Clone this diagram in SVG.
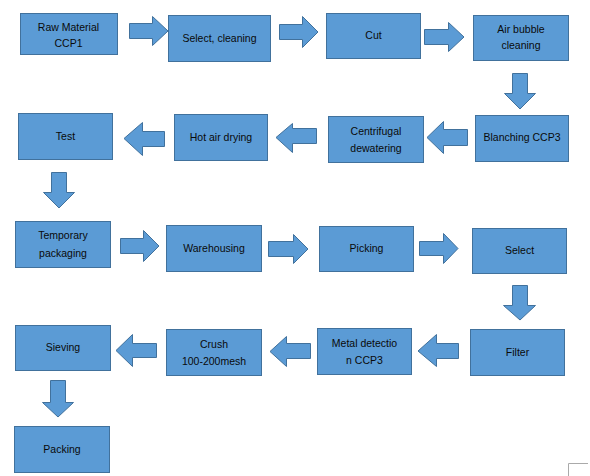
<svg xmlns="http://www.w3.org/2000/svg" width="590" height="476" viewBox="0 0 590 476">
<style>
.box{fill:#5B9BD5;stroke:#41719C;stroke-width:1}
.arr{fill:#5B9BD5;stroke:#41719C;stroke-width:1;stroke-linejoin:miter}
.t{font-family:"Liberation Sans",Arial,sans-serif;font-size:10.5px;fill:#0a0a0a;text-anchor:middle}
</style>
<rect width="590" height="476" fill="#ffffff"/>
<g id="connectors">
<path class="arr" d="M129.5,23.5H152.5V16.5L168,31L152.5,45.5V38.5H129.5Z"/>
<path class="arr" d="M279.5,24.5H302.5V16.5L318,32L302.5,47.5V39.5H279.5Z"/>
<path class="arr" d="M424.5,29.5H448.5V22.5L464,37L448.5,51.5V44.5H424.5Z"/>
<path class="arr" d="M512.5,73.5V93.5H504.5L520,109L535.5,93.5H527.5V73.5Z"/>
<path class="arr" d="M467.5,129.5H443.5V121.5L427,137.5L443.5,153.5V145.5H467.5Z"/>
<path class="arr" d="M316.5,128.5H292.5V123.5L276,137.5L292.5,152.5V143.5H316.5Z"/>
<path class="arr" d="M164.5,131.5H142.5V122.5L124,138.5L142.5,155.5V146.5H164.5Z"/>
<path class="arr" d="M51.5,172.5V192.5H43.5L59,208L74.5,192.5H66.5V172.5Z"/>
<path class="arr" d="M120.5,238.5H143.5V230.5L159,246L143.5,261.5V253.5H120.5Z"/>
<path class="arr" d="M268.5,241.5H293.5V234.5L308,249L293.5,263.5V256.5H268.5Z"/>
<path class="arr" d="M419.5,241.5H443.5V233.5L458,248.5L443.5,263.5V255.5H419.5Z"/>
<path class="arr" d="M512.5,285.5V305.5H503.5L520,320L535.5,305.5H527.5V285.5Z"/>
<path class="arr" d="M458.5,343.5H436.5V334.5L418,351L436.5,366.5V358.5H458.5Z"/>
<path class="arr" d="M310.5,343.5H286.5V336.5L270,351.5L286.5,366.5V358.5H310.5Z"/>
<path class="arr" d="M156.5,343.5H132.5V334.5L116,350.5L132.5,366.5V357.5H156.5Z"/>
<path class="arr" d="M50.5,380.5V402.5H42.5L58,417L73.5,402.5H65.5V380.5Z"/>
</g>
<g id="n1"><rect class="box" x="20.5" y="13.5" width="97" height="41"/><text class="t" x="68.5" y="31">Raw Material</text><text class="t" x="68.5" y="47">CCP1</text></g>
<g id="n2"><rect class="box" x="168.5" y="15.5" width="102" height="46"/><text class="t" x="219.5" y="42">Select, cleaning</text></g>
<g id="n3"><rect class="box" x="326.5" y="13.5" width="94" height="45"/><text class="t" x="373.5" y="39">Cut</text></g>
<g id="n4"><rect class="box" x="473.5" y="15.5" width="95" height="45"/><text class="t" x="521" y="33">Air bubble</text><text class="t" x="521" y="49">cleaning</text></g>
<g id="n5"><rect class="box" x="475.5" y="115.5" width="93" height="46"/><text class="t" x="522" y="141">Blanching CCP3</text></g>
<g id="n6"><rect class="box" x="328.5" y="116.5" width="95" height="46"/><text class="t" x="376" y="135">Centrifugal</text><text class="t" x="376" y="152">dewatering</text></g>
<g id="n7"><rect class="box" x="174.5" y="114.5" width="93" height="46"/><text class="t" x="221" y="141">Hot air drying</text></g>
<g id="n8"><rect class="box" x="18.5" y="113.5" width="94" height="46"/><text class="t" x="65.5" y="140">Test</text></g>
<g id="n9"><rect class="box" x="15.5" y="221.5" width="95" height="46"/><text class="t" x="63" y="239">Temporary</text><text class="t" x="63" y="257">packaging</text></g>
<g id="n10"><rect class="box" x="166.5" y="225.5" width="95" height="46"/><text class="t" x="214" y="252">Warehousing</text></g>
<g id="n11"><rect class="box" x="319.5" y="226.5" width="94" height="45"/><text class="t" x="366.5" y="252">Picking</text></g>
<g id="n12"><rect class="box" x="472.5" y="228.5" width="94" height="45"/><text class="t" x="519.5" y="254">Select</text></g>
<g id="n13"><rect class="box" x="470.5" y="329.5" width="94" height="46"/><text class="t" x="517.5" y="356">Filter</text></g>
<g id="n14"><rect class="box" x="317.5" y="328.5" width="94" height="46"/><text class="t" x="364.5" y="347">Metal detectio</text><text class="t" x="364.5" y="364">n CCP3</text></g>
<g id="n15"><rect class="box" x="166.5" y="329.5" width="95" height="46"/><text class="t" x="214" y="348">Crush</text><text class="t" x="214" y="365">100-200mesh</text></g>
<g id="n16"><rect class="box" x="15.5" y="325.5" width="95" height="45"/><text class="t" x="63" y="351">Sieving</text></g>
<g id="n17"><rect class="box" x="14.5" y="426.5" width="95" height="46"/><text class="t" x="62" y="453">Packing</text></g>
<polyline points="588,463.5 568.5,463.5 568.5,476" fill="none" stroke="#aaaaaa" stroke-width="1"/>
</svg>
